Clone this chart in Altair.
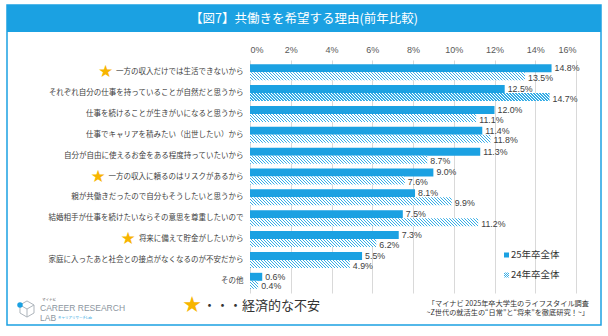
import altair as alt
import pandas as pd

# ---------------- data ----------------
categories = [
    "一方の収入だけでは生活できないから",
    "それぞれ自分の仕事を持っていることが自然だと思うから",
    "仕事を続けることが生きがいになると思うから",
    "仕事でキャリアを積みたい（出世したい）から",
    "自分が自由に使えるお金をある程度持っていたいから",
    "一方の収入に頼るのはリスクがあるから",
    "親が共働きだったので自分もそうしたいと思うから",
    "結婚相手が仕事を続けたいならその意思を尊重したいので",
    "将来に備えて貯金がしたいから",
    "家庭に入ったあと社会との接点がなくなるのが不安だから",
    "その他",
]
values_25 = [14.8, 12.5, 12.0, 11.4, 11.3, 9.0, 8.1, 7.5, 7.3, 5.5, 0.6]
values_24 = [13.5, 14.7, 11.1, 11.8, 8.7, 7.6, 9.9, 11.2, 6.2, 4.9, 0.4]
starred = [
    "一方の収入だけでは生活できないから",
    "一方の収入に頼るのはリスクがあるから",
    "将来に備えて貯金がしたいから",
]
series = ["25年卒全体", "24年卒全体"]
x_ticks = [0, 2, 4, 6, 8, 10, 12, 14, 16]

title_text = "【図7】共働きを希望する理由(前年比較)"
note_text = "・・・経済的な不安"
source_lines = ["「マイナビ 2025年卒大学生のライフスタイル調査",
                "~Z世代の就活生の“日常”と“将来”を徹底研究！~」"]

# ---------------- layout / style ----------------
W, H = 326, 233
PAD_L, PAD_T = 250, 60
BLUE = "#1ba1e2"
HATCH_BLUE = "#36ade6"
FONT_JP = "Noto Sans CJK JP"
FONT_NUM = "Liberation Sans"
LABEL_FS = 7.5
BAR_H = 8.0
PX_PER_UNIT = W / 16.0

rows = []
for c, a, b in zip(categories, values_25, values_24):
    rows.append({"cat": c, "series": series[0], "v": a})
    rows.append({"cat": c, "series": series[1], "v": b})
df = pd.DataFrame(rows)
df["lbl"] = df["v"].map(lambda x: f"{x:.1f}%")

y_enc = alt.Y("cat:N", sort=categories,
              scale=alt.Scale(paddingInner=0.232, paddingOuter=0.2),
              axis=alt.Axis(title=None, ticks=False, domain=False, labelFont=FONT_JP,
                            labelFontSize=LABEL_FS, labelColor="#404040",
                            labelPadding=7, labelLimit=400))
yoff = alt.YOffset("series:N", sort=series, scale=alt.Scale(paddingInner=0, paddingOuter=0))
x_enc = alt.X("v:Q", scale=alt.Scale(domain=[0, 16], nice=False),
              axis=alt.Axis(orient="top", values=x_ticks, title=None, ticks=False,
                            domain=False, labelExpr="datum.value + '%'",
                            labelFont=FONT_NUM, labelFontSize=9, labelColor="#595959",
                            labelPadding=6, grid=True, gridColor="#d9d9d9", gridWidth=1))


def hatch(width_px, height_px=BAR_H, period=3.0, frac=0.36):
    """diagonal stripe gradient sized to a bar of given pixel width"""
    wpx = max(width_px, 1.0)
    r = height_px / wpx
    k = (wpx + height_px) / (wpx * (1 + r * r))
    total = wpx + height_px
    stops = []
    n = int(total / period) + 1
    for i in range(n):
        t0 = i * period / total
        t1 = min((i * period + period * frac) / total, 1.0)
        t2 = min((i + 1) * period / total, 1.0)
        if t0 > 1:
            break
        stops += [alt.GradientStop(offset=t0, color=HATCH_BLUE),
                  alt.GradientStop(offset=t1, color=HATCH_BLUE),
                  alt.GradientStop(offset=t1, color="#ffffff"),
                  alt.GradientStop(offset=t2, color="#ffffff")]
    return alt.LinearGradient(gradient="linear", stops=stops,
                              x1=0, y1=1, x2=k, y2=1 - k * r)


base = alt.Chart(df)
dummy = alt.Chart(pd.DataFrame({"a": [0]}))

layers = []

# frame and title band
layers.append(dummy.mark_rect(fillOpacity=0, stroke=BLUE, strokeWidth=1.5).encode(
    x=alt.value(-243), x2=alt.value(351), y=alt.value(-55), y2=alt.value(265)))
layers.append(dummy.mark_rect(color=BLUE).encode(
    x=alt.value(-243), x2=alt.value(351), y=alt.value(-55), y2=alt.value(-28)))
layers.append(dummy.mark_text(text=title_text, font=FONT_JP, fontSize=12.5, color="white",
                              align="center", baseline="middle").encode(
    x=alt.value(54), y=alt.value(-41.5)))

# 25 bars (solid)
layers.append(base.transform_filter(alt.datum.series == series[0]).mark_bar(
    color=BLUE, cornerRadius=0).encode(y=y_enc, x=x_enc, yOffset=yoff))

# 24 bars (hatched) - one layer per bar
for c, b in zip(categories, values_24):
    layers.append(base.transform_filter(
        (alt.datum.series == series[1]) & (alt.datum.cat == c)).mark_bar(
        color=hatch(b * PX_PER_UNIT)).encode(y=y_enc, x=x_enc, yOffset=yoff))

# value labels
for s, dy in zip(series, [0, 1.6]):
    layers.append(base.transform_filter(alt.datum.series == s).mark_text(
        align="left", baseline="middle", dx=3, dy=dy,
        font=FONT_NUM, fontSize=8.8, color="#404040").encode(
        y=y_enc, x=x_enc, yOffset=yoff, text="lbl:N"))

# stars before selected labels
for c in starred:
    sx = -7 - len(c) * LABEL_FS - 10
    layers.append(base.transform_filter(
        (alt.datum.cat == c) & (alt.datum.series == series[0])).mark_text(
        text="★", font="DejaVu Sans", fontSize=17, color="#f7b500",
        align="center", baseline="middle").encode(y=y_enc, x=alt.value(sx)))

# legend
layers.append(dummy.mark_rect(color=BLUE).encode(
    x=alt.value(254), x2=alt.value(259), y=alt.value(192.5), y2=alt.value(197.5)))
layers.append(dummy.mark_rect(color=hatch(5, 5, period=2.0, frac=0.5)).encode(
    x=alt.value(254), x2=alt.value(259), y=alt.value(212.5), y2=alt.value(217.5)))
for i, s in enumerate(series):
    layers.append(dummy.mark_text(text=s, font=FONT_JP, fontSize=9.5, color="#333333",
                                  align="left", baseline="middle").encode(
        x=alt.value(261), y=alt.value(195 + 20 * i)))

# footer: star note
layers.append(dummy.mark_text(text="★", font="DejaVu Sans", fontSize=22, color="#f7b500",
                              align="center", baseline="middle").encode(
    x=alt.value(-58), y=alt.value(245)))
layers.append(dummy.mark_text(text=note_text, font=FONT_JP, fontSize=13, color="#333333",
                              align="left", baseline="middle").encode(
    x=alt.value(-47), y=alt.value(246)))

# footer: source
for i, s in enumerate(source_lines):
    layers.append(dummy.mark_text(text=s, font=FONT_JP, fontSize=7.2, color="#333333",
                                  align="right", baseline="middle").encode(
        x=alt.value(339), y=alt.value(244 + 9 * i)))

# footer: logo
cube = "M0,-1L0.87,-0.5L0.87,0.5L0,1L-0.87,0.5L-0.87,-0.5ZM0,0L0,1M0,0L0.87,-0.5M0,0L-0.87,-0.5"
layers.append(dummy.mark_point(shape=cube, size=260, filled=False, color="#8c96a0",
                               strokeWidth=1).encode(x=alt.value(-223), y=alt.value(249)))
layers.append(dummy.mark_circle(size=30, color=BLUE, opacity=1).encode(
    x=alt.value(-230), y=alt.value(245)))
layers.append(dummy.mark_text(text="CAREER RESEARCH", font=FONT_NUM, fontSize=8.5,
                              color="#8c96a0", align="left", baseline="middle").encode(
    x=alt.value(-210), y=alt.value(248)))
layers.append(dummy.mark_text(text="LAB", font=FONT_NUM, fontSize=8.5,
                              color="#8c96a0", align="left", baseline="middle").encode(
    x=alt.value(-210), y=alt.value(258)))
layers.append(dummy.mark_text(text="マイナビ", font=FONT_JP, fontSize=3.5,
                              color="#555555", align="left", baseline="middle").encode(
    x=alt.value(-208), y=alt.value(240)))
layers.append(dummy.mark_text(text="キャリアリサーチLab", font=FONT_JP, fontSize=3.5,
                              color=BLUE, align="left", baseline="middle").encode(
    x=alt.value(-192), y=alt.value(258)))

chart = alt.layer(*layers).properties(
    width=W, height=H,
    padding={"left": PAD_L, "top": PAD_T, "right": 608 - PAD_L - W, "bottom": 336 - PAD_T - H},
    autosize=alt.AutoSizeParams(type="none"),
    background="white",
).configure_view(stroke=None)

chart.save("out.html", embed_options={"renderer": "svg", "actions": False})
